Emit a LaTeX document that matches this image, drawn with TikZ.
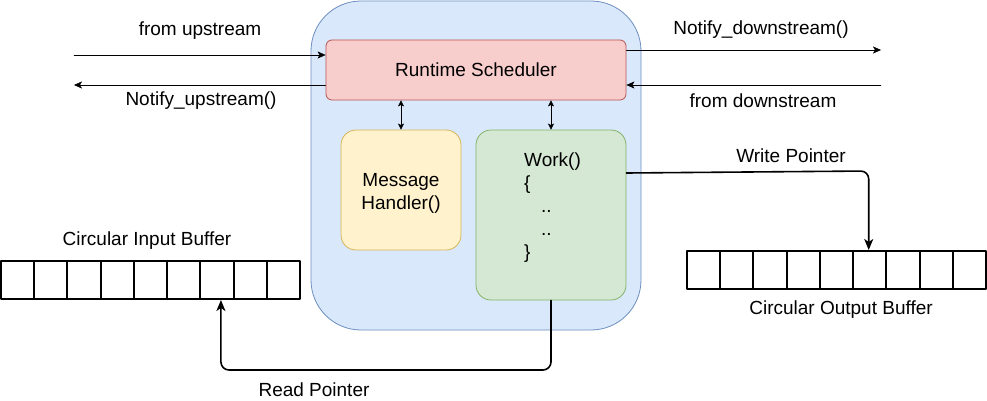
\documentclass[tikz,border=0pt]{standalone}
\usepackage{fontspec}
\setmainfont{Liberation Sans}
\usetikzlibrary{arrows.meta}
\definecolor{bluefill}{HTML}{DAE8FC}
\definecolor{blueline}{HTML}{6C8EBF}
\definecolor{redfill}{HTML}{F8CECC}
\definecolor{redline}{HTML}{B85450}
\definecolor{yelfill}{HTML}{FFF2CC}
\definecolor{yelline}{HTML}{D6B656}
\definecolor{grnfill}{HTML}{D5E8D4}
\definecolor{grnline}{HTML}{82B366}

\begin{document}
\begin{tikzpicture}[line cap=round,line join=round,>={Stealth[length=8pt,width=7pt,inset=2pt]},x=1pt,y=-1pt,
    every node/.style={font=\fontsize{19}{23}\selectfont},
    blok/.style={draw,rounded corners=15pt,line width=0.8pt,inner sep=0pt},
    cel/.style={draw,line width=2pt,minimum width=33.22pt,minimum height=38pt,inner sep=0pt},
    pointer/.style={-{Stealth[length=11pt,width=9pt,inset=3pt]},line width=1.6pt,rounded corners=8pt}]
  \useasboundingbox (0,0) rectangle (987,401);
  % runtime block
  \node[blok,fill=bluefill,draw=blueline,rounded corners=50pt,minimum width=330pt,minimum height=329pt] (core) at (476,165.5) {};
  \node[blok,fill=redfill,draw=redline,rounded corners=6pt,minimum width=300pt,minimum height=60pt] (sched) at (476,70) {Runtime Scheduler};
  \node[blok,fill=yelfill,draw=yelline,minimum width=120pt,minimum height=120pt,
    label={[align=center,yshift=-3pt]center:Message\\Handler()}] (msg) at (401,190) {};
  \node[blok,fill=grnfill,draw=grnline,minimum width=150pt,minimum height=170pt] (work) at (551,215) {};
  \node[anchor=north west,align=left,inner sep=0pt] (code) at (524,153) {Work()\\\{\\\hspace*{17pt}..\\\hspace*{17pt}..\\\}};
  \draw[{Stealth[length=6pt,width=6pt,inset=1.5pt]}-{Stealth[length=6pt,width=6pt,inset=1.5pt]}] (msg.north |- sched.south) -- (msg.north);
  \draw[{Stealth[length=6pt,width=6pt,inset=1.5pt]}-{Stealth[length=6pt,width=6pt,inset=1.5pt]}] (work.north |- sched.south) -- (work.north);
  % upstream / downstream
  \coordinate (upin) at (74,55);
  \coordinate (upout) at (74,85);
  \coordinate (dnout) at (881,50);
  \coordinate (dnin) at (881,85);
  \draw[->] (upin) -- (upin -| sched.west);
  \draw[->] (upout -| sched.west) -- (upout);
  \draw[->] (dnout -| sched.east) -- (dnout);
  \draw[->] (dnin) -- (dnin -| sched.east);
  \node (lupin) at (200,31) {from upstream};
  \node (lupout) at (201,101) {Notify\_upstream()};
  \node (ldnout) at (761,30) {Notify\_downstream()};
  \node (ldnin) at (763,101) {from downstream};
  % buffers
  \foreach \i in {1,...,9}{
    \node[cel] (ib\i) at ({1+33.22*(\i-0.5)},280) {};
    \node[cel] (ob\i) at ({687+33.22*(\i-0.5)},270) {};
  }
  \node (lib) at (147,241) {Circular Input Buffer};
  \node (lob) at (841,310) {Circular Output Buffer};
  % pointers
  \draw[pointer] (work.east |- 0,173) -- ([xshift=-1pt]ob6.north |- 0,171) -- ([xshift=-1pt]ob6.north);
  \draw[pointer] (work.south) -- (work.south |- 0,370) -- ([xshift=4pt]ib7.south |- 0,370) -- ([xshift=4pt]ib7.south);
  \node (lwp) at (791,156) {Write Pointer};
  \node (lrp) at (314,390) {Read Pointer};
\end{tikzpicture}
\end{document}
